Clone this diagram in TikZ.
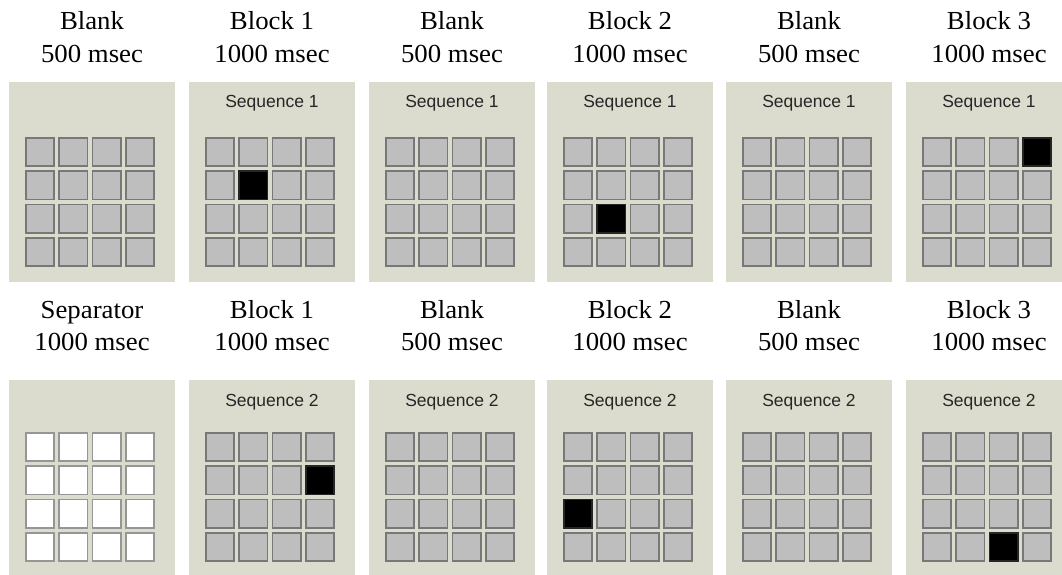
\documentclass[tikz,border=0pt]{standalone}
\usepackage{fontspec}
\setmainfont{Liberation Serif}
\newfontfamily\seqfont{Liberation Sans}
\definecolor{panelbg}{RGB}{220,220,206}
\definecolor{cellfill}{RGB}{190,190,190}
\definecolor{cellline}{RGB}{120,120,120}
\definecolor{whiteline}{RGB}{150,150,150}
\tikzset{
  panelbox/.style={fill=panelbg, draw=none},
  titletext/.style={font=\fontsize{26}{33}\selectfont, inner sep=0, anchor=base, xscale=1.03},
  seqlabel/.style={font=\seqfont\fontsize{17.5}{19}\selectfont, inner sep=0, anchor=base, text=black!85},
  cell/.style={fill=cellfill, draw=cellline, line width=1.6pt, minimum size=28.4pt, inner sep=0},
  litcell/.style={fill=black, draw=black!85},
  sepcell/.style={fill=white, draw=whiteline}
}
\begin{document}
\begin{tikzpicture}[x=1pt,y=-1pt]
\useasboundingbox (0,0) rectangle (1062,575);
\clip (0,0) rectangle (1062,575);
% ---------- top row ----------
\foreach \p/\L/\ta/\tb/\lr/\lc in {
  1/9/Blank/500 msec/0/0,
  2/189/Block 1/1000 msec/2/2,
  3/369/Blank/500 msec/0/0,
  4/547/Block 2/1000 msec/3/2,
  5/726/Blank/500 msec/0/0,
  6/906/Block 3/1000 msec/1/4}{
  \path[panelbox] (\L,82) rectangle ++(166,200);
  \node[titletext] (ta\p) at (\L+83,30) {\ta};
  \node[titletext] (tb\p) at (\L+83,63) {\tb};
  \ifnum\p>1
    \node[seqlabel] (sa\p) at (\L+83,108) {Sequence 1};
  \fi
  \foreach \r in {1,...,4}{
    \foreach \c in {1,...,4}{
      \pgfmathtruncatemacro{\hit}{(\r==\lr)&&(\c==\lc)}
      \ifnum\hit=1
        \node[cell,litcell] (ca\p-\r-\c) at ({\L+31+(\c-1)*33.3},{152+(\r-1)*33.3}) {};
      \else
        \node[cell] (ca\p-\r-\c) at ({\L+31+(\c-1)*33.3},{152+(\r-1)*33.3}) {};
      \fi
    }
  }
}
% ---------- bottom row ----------
\foreach \p/\L/\ta/\tb/\lr/\lc in {
  1/9/Separator/1000 msec/0/0,
  2/189/Block 1/1000 msec/2/4,
  3/369/Blank/500 msec/0/0,
  4/547/Block 2/1000 msec/3/1,
  5/726/Blank/500 msec/0/0,
  6/906/Block 3/1000 msec/4/3}{
  \path[panelbox] (\L,380) rectangle ++(166,200);
  \node[titletext] (tc\p) at (\L+83,318) {\ta};
  \node[titletext] (td\p) at (\L+83,350) {\tb};
  \ifnum\p>1
    \node[seqlabel] (sb\p) at (\L+83,406.5) {Sequence 2};
  \fi
  \foreach \r in {1,...,4}{
    \foreach \c in {1,...,4}{
      \pgfmathtruncatemacro{\hit}{(\r==\lr)&&(\c==\lc)}
      \ifnum\p=1
        \node[cell,sepcell] (cb\p-\r-\c) at ({\L+31+(\c-1)*33.3},{447+(\r-1)*33.3}) {};
      \else\ifnum\hit=1
        \node[cell,litcell] (cb\p-\r-\c) at ({\L+31+(\c-1)*33.3},{447+(\r-1)*33.3}) {};
      \else
        \node[cell] (cb\p-\r-\c) at ({\L+31+(\c-1)*33.3},{447+(\r-1)*33.3}) {};
      \fi\fi
    }
  }
}
\end{tikzpicture}
\end{document}
